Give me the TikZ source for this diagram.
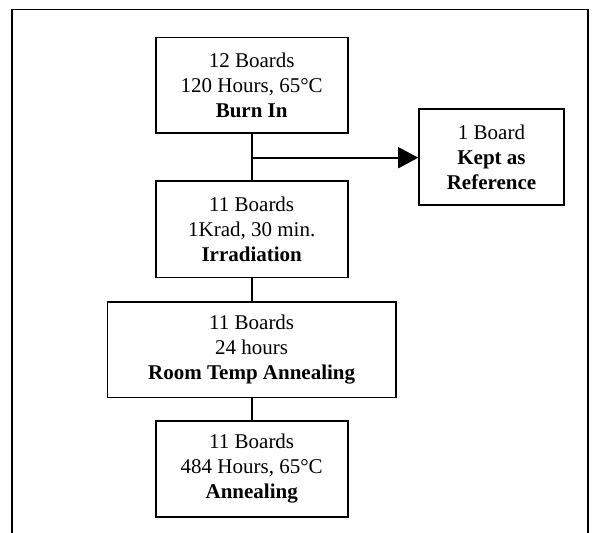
\documentclass[tikz,border=0pt]{standalone}
\usepackage{fontspec}
\setmainfont{Liberation Serif}
\usetikzlibrary{arrows.meta}
\tikzset{
  box/.style={draw, line width=1.6pt, align=center, inner sep=0pt,
    font=\fontsize{21}{25}\selectfont},
  link/.style={line width=1.6pt},
  frame/.style={line width=1.6pt}
}
\begin{document}
\begin{tikzpicture}[x=1pt,y=-1pt]
\useasboundingbox (0,0) rectangle (598,533);
\draw[frame] (12,533) -- (12,9.5) -- (588,9.5) -- (588,533);
\node[box, minimum width=192pt, minimum height=95.4pt] (burn) at (251.7,85)
  {12 Boards\\120 Hours, 65°C\\\textbf{Burn In}};
\node[box, minimum width=192pt, minimum height=96.3pt] (irr) at (251.7,229.2)
  {11 Boards\\1Krad, 30 min.\\\textbf{Irradiation}};
\node[box, minimum width=288.7pt, minimum height=95.6pt] (room) at (251.7,349.5)
  {11 Boards\\24 hours\\\textbf{Room Temp Annealing}};
\node[box, minimum width=192pt, minimum height=95.7pt] (ann) at (251.7,468.9)
  {11 Boards\\484 Hours, 65°C\\\textbf{Annealing}};
\node[box, minimum width=145pt, minimum height=96pt] (ref) at (491.5,157)
  {1 Board\\\textbf{Kept as}\\\textbf{Reference}};
\coordinate (branch) at (251.7,157.7);
\draw[link] (burn.south) -- (irr.north);
\draw[link,-{Triangle[length=20pt,width=21pt]}] (branch) -- (branch -| ref.west);
\draw[link] (irr.south) -- (room.north);
\draw[link] (room.south) -- (ann.north);
\end{tikzpicture}
\end{document}
